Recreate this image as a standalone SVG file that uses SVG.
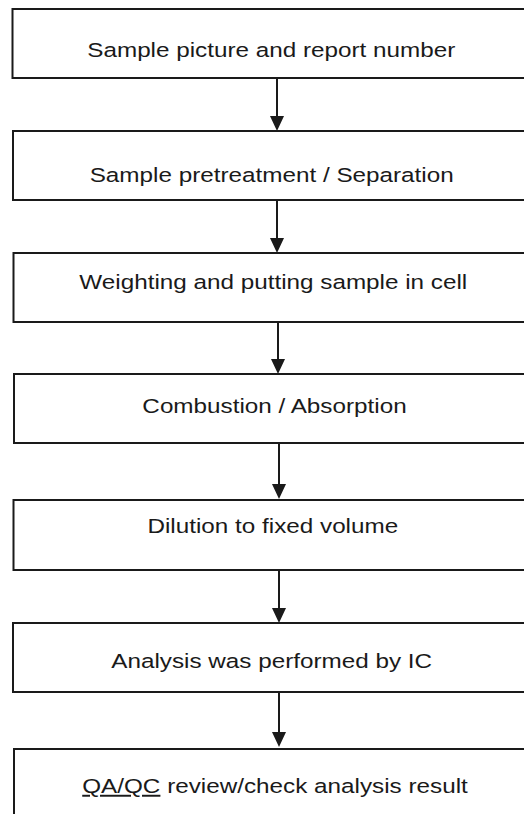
<svg xmlns="http://www.w3.org/2000/svg" width="524" height="814" viewBox="0 0 524 814">
<defs>
<style>
.box{fill:#fff;stroke:#1a1a1a;stroke-width:2}
.lbl{font-family:"Liberation Sans",Arial,sans-serif;font-size:19.5px;fill:#1a1a1a;text-anchor:middle}
.conn{stroke:#1a1a1a;stroke-width:2;fill:none}
.head{fill:#1a1a1a}
</style>
</defs>
<rect width="524" height="814" fill="#fff"/>
<g id="connectors">
<line class="conn" x1="277" y1="78" x2="277" y2="118"/><polygon class="head" points="270,116 284,116 277,131"/>
<line class="conn" x1="277" y1="200" x2="277" y2="240"/><polygon class="head" points="270,238 284,238 277,253"/>
<line class="conn" x1="278" y1="322" x2="278" y2="361"/><polygon class="head" points="271,359 285,359 278,374"/>
<line class="conn" x1="279" y1="443" x2="279" y2="486"/><polygon class="head" points="272,484 286,484 279,499"/>
<line class="conn" x1="279" y1="570" x2="279" y2="610"/><polygon class="head" points="272,608 286,608 279,623"/>
<line class="conn" x1="279" y1="692" x2="279" y2="734"/><polygon class="head" points="272,732 286,732 279,747"/>
</g>
<g id="n1"><rect class="box" x="12.5" y="9" width="530" height="69"/><text class="lbl" transform="translate(271.3 57) scale(1.245 1)">Sample picture and report number</text></g>
<g id="n2"><rect class="box" x="13" y="131" width="530" height="69"/><text class="lbl" transform="translate(271.7 182) scale(1.245 1)">Sample pretreatment / Separation</text></g>
<g id="n3"><rect class="box" x="13.5" y="253" width="530" height="69"/><text class="lbl" transform="translate(273.3 289) scale(1.245 1)">Weighting and putting sample in cell</text></g>
<g id="n4"><rect class="box" x="14" y="374" width="530" height="69"/><text class="lbl" transform="translate(274.5 413) scale(1.245 1)">Combustion / Absorption</text></g>
<g id="n5"><rect class="box" x="13.5" y="500" width="530" height="70"/><text class="lbl" transform="translate(272.8 533) scale(1.245 1)">Dilution to fixed volume</text></g>
<g id="n6"><rect class="box" x="13" y="623" width="530" height="69"/><text class="lbl" transform="translate(271.7 668) scale(1.245 1)">Analysis was performed by IC</text></g>
<g id="n7"><rect class="box" x="14" y="749" width="530" height="80"/><text class="lbl" transform="translate(275 793) scale(1.245 1)"><tspan text-decoration="underline">QA/QC</tspan> review/check analysis result</text></g>
</svg>
